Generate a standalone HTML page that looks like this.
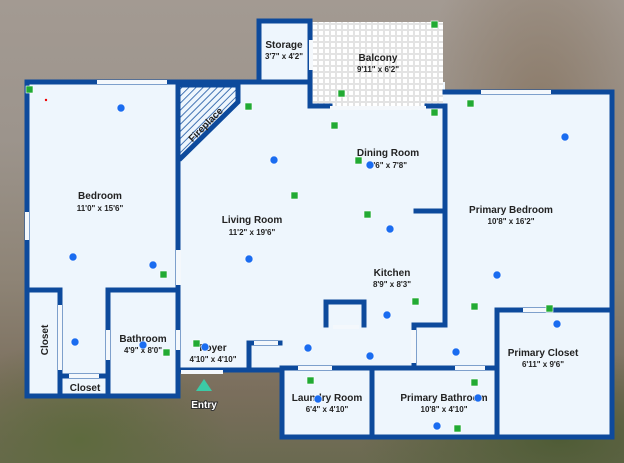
<!DOCTYPE html>
<html><head><meta charset="utf-8"><style>
html,body{margin:0;padding:0;width:624px;height:463px;overflow:hidden}
body{background:
radial-gradient(ellipse 120px 200px at 540px 120px,#8b7a68 0%,rgba(139,122,104,0) 100%),
radial-gradient(ellipse 150px 100px at 80px 440px,#5e6a3e 0%,rgba(94,106,62,0) 100%),
radial-gradient(ellipse 200px 90px at 560px 440px,#4f5c36 0%,rgba(79,92,54,0) 100%),
linear-gradient(180deg,#a39a92 0%,#9c948c 30%,#8e8476 60%,#7a6e5c 85%,#6a6a50 100%);}
svg{position:absolute;left:0;top:0}
text{font-family:"Liberation Sans",sans-serif;fill:#222;text-anchor:middle}
.t{font-size:10px;font-weight:bold}
.s{font-size:8px;font-weight:bold}
</style></head><body>
<svg width="624" height="463" viewBox="0 0 624 463">
<defs>
<pattern id="tile" width="6" height="6" patternUnits="userSpaceOnUse"><rect width="6" height="6" fill="#fff"/><rect x="0.5" y="0.5" width="5" height="5" fill="none" stroke="#ddd" stroke-width="0.8"/></pattern>
<pattern id="hatch" width="5" height="5" patternUnits="userSpaceOnUse" patternTransform="rotate(45)"><rect width="5" height="5" fill="#eef6fd"/><line x1="0" y1="0" x2="0" y2="5" stroke="#0d4a9c" stroke-width="1.5"/></pattern>
</defs>
<g fill="#eef6fd">
<rect x="27" y="82" width="153" height="314"/>
<rect x="178" y="82" width="267" height="290"/>
<rect x="259" y="21" width="51" height="61"/>
<rect x="443" y="92" width="169" height="236"/>
<rect x="413" y="320" width="199" height="50"/>
<rect x="282" y="368" width="235" height="69"/>
<rect x="497" y="308" width="115" height="129"/>
</g>
<rect x="312" y="22" width="131" height="86" fill="url(#tile)"/>
<polygon points="180,84 238,84 238,103 180,160" fill="url(#hatch)"/>
<g fill="none" stroke="#0d4a9c" stroke-width="5" stroke-linecap="square">
<polyline points="27,82 27,396 178,396 178,82 27,82"/>
<polyline points="178,82 310,82"/>
<polyline points="259,82 259,21 310,21 310,82"/>
<polyline points="310,82 310,106 330,106"/>
<polyline points="427,106 445,106 445,325 414,325 414,368"/>
<polyline points="445,92 612,92 612,437 282,437 282,370"/>
<polyline points="282,370 282,368 497,368"/>
<polyline points="497,437 497,310 612,310"/>
<polyline points="372,368 372,437"/>
<polyline points="178,370 282,370"/>
<polyline points="27,290 60,290 60,376 108,376 108,290 178,290"/>
<polyline points="60,376 60,396"/>
<polyline points="108,376 108,396"/>
<polyline points="326,325 326,302 364,302 364,325"/>
<polyline points="249,370 249,343 280,343"/>
<polyline points="181,85 238,85 238,102 181,158"/>
<polyline points="416,211 443,211"/>
</g>
<g fill="#f4f8fc">
<rect x="97" y="80" width="70" height="4"/>
<rect x="481" y="90" width="70" height="4"/>
<rect x="25" y="212" width="4" height="28"/>
<rect x="181" y="370" width="42" height="4"/>
<rect x="330" y="106" width="96" height="4"/>
<rect x="176" y="250" width="5" height="35"/>
<rect x="58" y="305" width="4" height="65"/>
<rect x="106" y="330" width="4" height="30"/>
<rect x="69" y="374" width="30" height="4"/>
<rect x="176" y="330" width="4" height="20"/>
<rect x="298" y="366" width="34" height="4"/>
<rect x="455" y="366" width="30" height="4"/>
<rect x="523" y="308" width="30" height="4"/>
<rect x="411" y="330" width="5" height="33"/>
<rect x="333" y="325" width="26" height="4"/>
<rect x="254" y="341" width="24" height="4"/>
<rect x="309" y="40" width="4" height="30"/>
</g>
<text class="t" x="284" y="48">Storage</text><text class="s" x="284" y="59">3'7" x 4'2"</text>
<text class="t" x="378" y="61">Balcony</text><text class="s" x="378" y="72">9'11" x 6'2"</text>
<text class="t" x="208" y="127" transform="rotate(-45 208 127)">Fireplace</text>
<text class="t" x="100" y="199">Bedroom</text><text class="s" x="100" y="211">11'0" x 15'6"</text>
<text class="t" x="252" y="223">Living Room</text><text class="s" x="252" y="235">11'2" x 19'6"</text>
<text class="t" x="388" y="156">Dining Room</text><text class="s" x="388" y="168">9'6" x 7'8"</text>
<text class="t" x="392" y="276">Kitchen</text><text class="s" x="392" y="287">8'9" x 8'3"</text>
<text class="t" x="511" y="213">Primary Bedroom</text><text class="s" x="511" y="224">10'8" x 16'2"</text>
<text class="t" x="543" y="356">Primary Closet</text><text class="s" x="543" y="367">6'11" x 9'6"</text>
<text class="t" x="143" y="342">Bathroom</text><text class="s" x="143" y="353">4'9" x 8'0"</text>
<text class="t" x="213" y="351">Foyer</text><text class="s" x="213" y="362">4'10" x 4'10"</text>
<text class="t" x="327" y="401">Laundry Room</text><text class="s" x="327" y="412">6'4" x 4'10"</text>
<text class="t" x="444" y="401">Primary Bathroom</text><text class="s" x="444" y="412">10'8" x 4'10"</text>
<text class="t" x="85" y="391">Closet</text>
<text class="t" x="48" y="340" transform="rotate(-90 48 340)">Closet</text>
<polygon points="204,379 196,391 212,391" fill="#3ccaa6"/>
<text class="t" x="204" y="408" style="fill:#fff;stroke:#333;stroke-width:2;paint-order:stroke">Entry</text>
<circle cx="46" cy="100" r="1.2" fill="#e00"/>
<g fill="#22aa33" stroke="#fff" stroke-width="0.6">
<rect x="26" y="86" width="7" height="7"/><rect x="160" y="271" width="7" height="7"/><rect x="163" y="349" width="7" height="7"/><rect x="193" y="340" width="7" height="7"/><rect x="245" y="103" width="7" height="7"/><rect x="331" y="122" width="7" height="7"/><rect x="291" y="192" width="7" height="7"/><rect x="338" y="90" width="7" height="7"/><rect x="431" y="21" width="7" height="7"/><rect x="431" y="109" width="7" height="7"/><rect x="467" y="100" width="7" height="7"/><rect x="355" y="157" width="7" height="7"/><rect x="364" y="211" width="7" height="7"/><rect x="412" y="298" width="7" height="7"/><rect x="471" y="303" width="7" height="7"/><rect x="546" y="305" width="7" height="7"/><rect x="307" y="377" width="7" height="7"/><rect x="471" y="379" width="7" height="7"/><rect x="454" y="425" width="7" height="7"/>
</g>
<g fill="#1a6cf0" stroke="#fff" stroke-width="0.6">
<circle cx="121" cy="108" r="4"/><circle cx="73" cy="257" r="4"/><circle cx="153" cy="265" r="4"/><circle cx="75" cy="342" r="4"/><circle cx="143" cy="345" r="4"/><circle cx="205" cy="347" r="4"/><circle cx="274" cy="160" r="4"/><circle cx="249" cy="259" r="4"/><circle cx="370" cy="165" r="4"/><circle cx="390" cy="229" r="4"/><circle cx="565" cy="137" r="4"/><circle cx="497" cy="275" r="4"/><circle cx="387" cy="315" r="4"/><circle cx="308" cy="348" r="4"/><circle cx="370" cy="356" r="4"/><circle cx="456" cy="352" r="4"/><circle cx="557" cy="324" r="4"/><circle cx="318" cy="399" r="4"/><circle cx="478" cy="398" r="4"/><circle cx="437" cy="426" r="4"/>
</g>
</svg>
</body></html>
